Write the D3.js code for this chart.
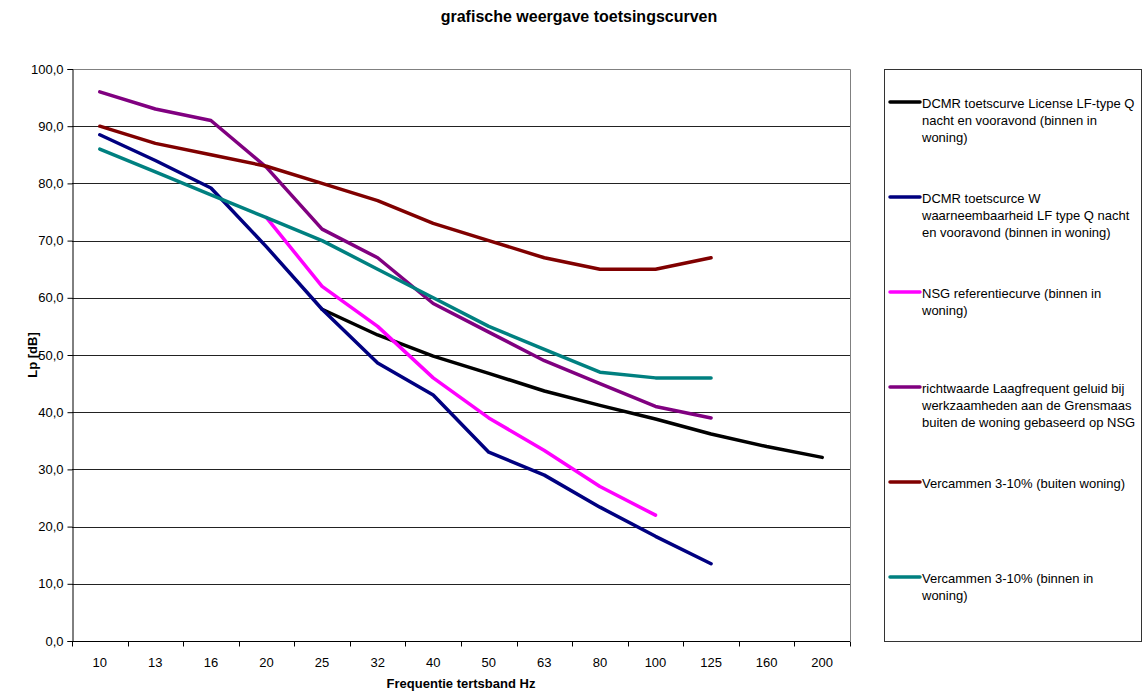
<!DOCTYPE html>
<html>
<head>
<meta charset="utf-8">
<script src="https://cdn.jsdelivr.net/npm/d3@7"></script>
<style>
  body { margin: 0; background: #fff; }
  text { font-family: "Liberation Sans", Arial, sans-serif; fill: #000; }
</style>
</head>
<body>
<div id="chart"></div>
<script>
// data
const frequencies = ['10', '13', '16', '20', '25', '32', '40', '50', '63', '80', '100', '125', '160', '200'];
const yTicks = [0, 10, 20, 30, 40, 50, 60, 70, 80, 90, 100];

const dcmrLicense = [null, null, null, null, 58, 53.5, 49.8, 46.8, 43.7, 41.2, 38.8, 36.2, 34, 32.1];
const dcmrWaarneembaar = [88.5, 84, 79.2, 68.9, 58, 48.6, 43, 33, 29, 23.4, 18.3, 13.5, null, null];
const nsgReferentie = [null, null, null, 74, 62, 55, 46, 39, 33.3, 27, 22, null, null, null];
const richtwaardeGrensmaas = [96, 93, 91, 82.8, 72, 67, 59, 54, 49, 45, 41, 39, null, null];
const vercammenBuiten = [90, 87, 85, 83, 80, 77, 73, 70, 67, 65, 65, 67, null, null];
const vercammenBinnen = [86, 82, 78, 74, 70, 65, 60, 55, 51, 47, 46, 46, null, null];

const seriesNames = [
  ['DCMR toetscurve License LF-type Q', 'nacht en vooravond (binnen in', 'woning)'],
  ['DCMR toetscurce W', 'waarneembaarheid LF type Q nacht', 'en vooravond (binnen in woning)'],
  ['NSG referentiecurve (binnen in', 'woning)'],
  ['richtwaarde Laagfrequent geluid bij', 'werkzaamheden aan de Grensmaas', 'buiten de woning gebaseerd op NSG'],
  ['Vercammen 3-10% (buiten woning)'],
  ['Vercammen 3-10% (binnen in', 'woning)']
];
const seriesValues = [dcmrLicense, dcmrWaarneembaar, nsgReferentie, richtwaardeGrensmaas, vercammenBuiten, vercammenBinnen];
const seriesColors = ['#000000', '#000080', '#ff00ff', '#800080', '#800000', '#008080'];

// settings
const width = 1143;
const height = 693;
const plot = { left: 72, right: 850, top: 69, bottom: 641 };
const legendBox = { x: 884, y: 69, w: 257, h: 572 };

const svg = d3.select('#chart')
  .append('svg')
  .attr('width', width)
  .attr('height', height);

const x = d3.scaleBand()
  .domain(frequencies)
  .range([plot.left, plot.right])
  .padding(0);

const y = d3.scaleLinear()
  .domain([0, 100])
  .range([plot.bottom, plot.top]);

// title
svg.append('text')
  .attr('x', 579)
  .attr('y', 22)
  .attr('text-anchor', 'middle')
  .attr('font-size', 16)
  .attr('font-weight', 'bold')
  .text('grafische weergave toetsingscurven');

// plot border (top/right)
svg.append('path')
  .attr('d', `M${plot.left},${plot.top + 0.5}H${plot.right + 0.5}V${plot.bottom}`)
  .attr('fill', 'none')
  .attr('stroke', '#808080')
  .attr('stroke-width', 1);

// gridlines
svg.append('g')
  .selectAll('line')
  .data(yTicks.filter(d => d > 0 && d < 100))
  .join('line')
  .attr('x1', plot.left)
  .attr('x2', plot.right)
  .attr('y1', d => Math.round(y(d)) + 0.5)
  .attr('y2', d => Math.round(y(d)) + 0.5)
  .attr('stroke', '#222')
  .attr('stroke-width', 1);

// y axis
const yAxis = svg.append('g')
  .attr('transform', `translate(${plot.left + 0.5},0)`)
  .call(d3.axisLeft(y).tickValues(yTicks).tickSize(5).tickPadding(4)
    .tickFormat(d => d3.format('.1f')(d).replace('.', ',')));
yAxis.selectAll('.domain').attr('stroke', '#000');
yAxis.selectAll('text').attr('font-size', 13).attr('font-family', '"Liberation Sans", Arial, sans-serif');

// x axis: ticks between bands
const xAxis = svg.append('g')
  .attr('transform', `translate(0,${plot.bottom + 0.5})`);
xAxis.append('line')
  .attr('x1', plot.left)
  .attr('x2', plot.right)
  .attr('stroke', '#000');
xAxis.selectAll('line.tick')
  .data(frequencies.concat(['end']))
  .join('line')
  .attr('class', 'tick')
  .attr('x1', (d, i) => Math.round(plot.left + i * x.bandwidth()) + 0.5)
  .attr('x2', (d, i) => Math.round(plot.left + i * x.bandwidth()) + 0.5)
  .attr('y1', 0)
  .attr('y2', 5)
  .attr('stroke', '#000');
xAxis.selectAll('text')
  .data(frequencies)
  .join('text')
  .attr('x', d => x(d) + x.bandwidth() / 2)
  .attr('y', 25)
  .attr('text-anchor', 'middle')
  .attr('font-size', 13)
  .text(d => d);

// axis titles
svg.append('text')
  .attr('x', (plot.left + plot.right) / 2)
  .attr('y', 688)
  .attr('text-anchor', 'middle')
  .attr('font-size', 13)
  .attr('font-weight', 'bold')
  .text('Frequentie tertsband Hz');

svg.append('text')
  .attr('transform', `translate(37,${(plot.top + plot.bottom) / 2}) rotate(-90)`)
  .attr('text-anchor', 'middle')
  .attr('font-size', 13)
  .attr('font-weight', 'bold')
  .text('Lp [dB]');

// lines
const line = d3.line()
  .defined(d => d != null)
  .x((d, i) => x(frequencies[i]) + x.bandwidth() / 2)
  .y(d => y(d));

svg.append('g')
  .selectAll('path')
  .data(seriesValues)
  .join('path')
  .attr('d', d => line(d))
  .attr('fill', 'none')
  .attr('stroke', (d, i) => seriesColors[i])
  .attr('stroke-width', 3.5)
  .attr('stroke-linejoin', 'round')
  .attr('stroke-linecap', 'round');

// legend
const legend = svg.append('g');
legend.append('rect')
  .attr('x', legendBox.x + 0.5)
  .attr('y', legendBox.y + 0.5)
  .attr('width', legendBox.w)
  .attr('height', legendBox.h)
  .attr('fill', '#fff')
  .attr('stroke', '#333');

seriesNames.forEach((lines, i) => {
  const ly = 102 + i * 95;
  legend.append('line')
    .attr('x1', 890)
    .attr('x2', 920)
    .attr('y1', ly)
    .attr('y2', ly)
    .attr('stroke', seriesColors[i])
    .attr('stroke-width', 3.5)
    .attr('stroke-linecap', 'round');
  const t = legend.append('text')
    .attr('x', 922)
    .attr('y', ly + 6)
    .attr('font-size', 13);
  lines.forEach((l, j) => {
    t.append('tspan')
      .attr('x', 922)
      .attr('dy', j === 0 ? 0 : 17)
      .text(l);
  });
});
</script>
</body>
</html>
